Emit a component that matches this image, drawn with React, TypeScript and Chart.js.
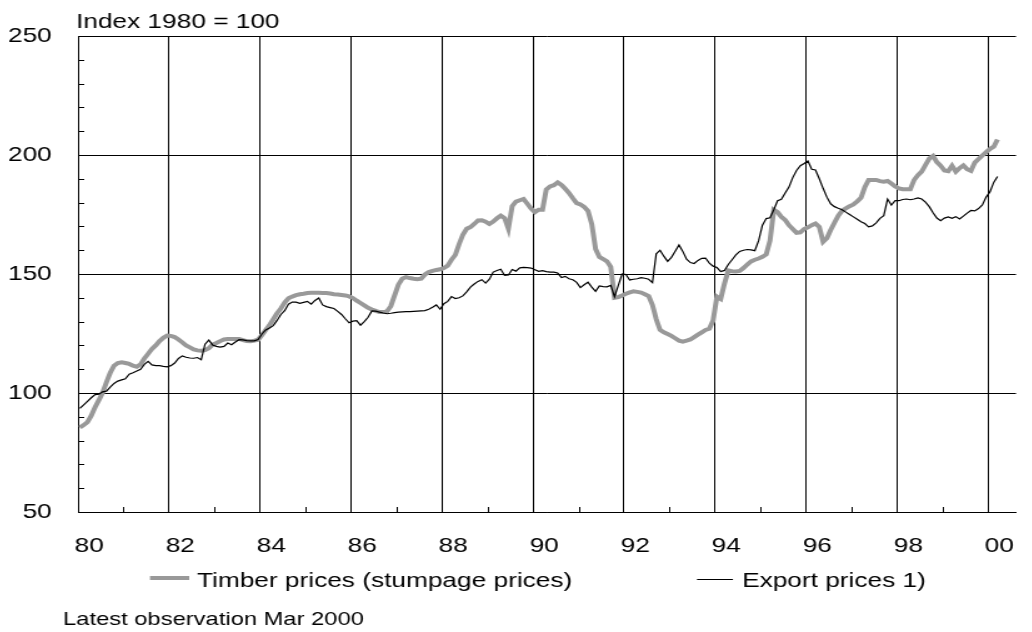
import React, { useEffect, useRef } from "react";
import { Chart, registerables } from "chart.js";

Chart.register(...registerables);

// ---- data -------------------------------------------------------------
const firstYear = 1980; // monthly observations from Jan 1980 to Mar 2000

const timberPrices = [
  85.5, 86.5, 87.8, 90.5, 94, 97, 100.2, 104.5, 108.5, 111.5, 112.6, 112.9,
  112.6, 112.2, 111.5, 111, 112, 114.5, 116.5, 118.5, 120, 121.8, 123.2, 124.1,
  124, 123.5, 122.5, 121.3, 120, 119.2, 118.3, 117.9, 117.8, 118, 118.8, 120.3,
  121, 121.8, 122.5, 122.7, 122.7, 122.7, 122.7, 122.2, 121.8, 121.7, 122, 122.4,
  124.3, 126.5, 128.5, 131, 133.5, 135.5, 138, 139.8, 140.5, 141.1, 141.5, 141.7,
  142, 142.1, 142.1, 142.1, 142, 142, 141.8, 141.5, 141.4, 141.2, 141, 140.6,
  139.9, 138.8, 137.8, 136.8, 135.8, 135.1, 134.5, 134, 134, 134.3, 136.5, 141,
  145.5, 148, 148.7, 148.3, 148, 147.8, 148, 149.8, 150.8, 151.3, 151.7, 152,
  152.5, 153.5, 156, 158, 162.5, 166.5, 169, 169.7, 171, 172.5, 172.6, 172,
  171, 172, 173.4, 174.5, 173.5, 169, 178.5, 180.4, 181, 181.5, 179.5, 177.5,
  176, 177, 177, 185.5, 186.8, 187.3, 188.5, 187.4, 185.8, 184, 181.8, 179.8,
  179.2, 178.2, 176.5, 171, 160.5, 157.2, 156.3, 155.3, 153, 140, 140.3, 141,
  141.7, 142.3, 142.7, 142.5, 142.2, 141.5, 140.7, 137, 131, 126.5, 125.5, 124.8,
  124, 123, 122, 121.6, 122, 122.5, 123.5, 124.5, 125.5, 126.5, 127, 130.5,
  140.5, 139.5, 146, 151.5, 151.2, 151.1, 151.3, 152.5, 154, 155.3, 156, 156.5,
  157.2, 158.2, 164, 177, 176, 174, 172.7, 170.5, 168.9, 167.3, 167.5, 168.9,
  169.6, 170.5, 171.2, 169.8, 163.5, 165, 168.5, 171.5, 174.5, 176.5, 177.6, 178.5,
  179.2, 180.5, 182, 186.5, 189.5, 189.5, 189.5, 189, 188.8, 189.1, 188, 186.8,
  186, 185.6, 185.6, 185.6, 189.5, 191.5, 193, 195.8, 198.5, 199.6, 197, 195.5,
  193.5, 193.2, 195.5, 193, 194.5, 195.6, 194, 193.3, 196.8, 198.3, 199.8, 201.2,
  202.5, 203.5, 206.5,
];

const exportPrices = [
  93.5, 95, 96.5, 98, 99.3, 99.5, 100.5, 100.8, 102.5, 104, 105, 105.5,
  106, 107.9, 108.5, 109.2, 110, 112, 113.3, 111.8, 111.5, 111.5, 111.2, 111,
  111.5, 112.6, 114.5, 115.6, 115, 114.7, 114.6, 114.9, 114, 120.5, 122.2, 120.2,
  119.6, 119.3, 119.6, 121, 120.3, 121.4, 122.4, 122.3, 122, 121.9, 121.9, 122.5,
  124.8, 126.5, 127.3, 128.3, 130.5, 133, 134.6, 137.3, 138.2, 138.2, 137.7, 138.1,
  138.5, 137.3, 138.9, 139.9, 137, 136.3, 135.9, 135.5, 134.3, 133, 131.2, 129.5,
  130.2, 130.4, 128.5, 130, 131.8, 134.5, 134.4, 134, 133.6, 133.3, 133.5, 133.8,
  134, 134.1, 134.2, 134.2, 134.3, 134.4, 134.5, 134.6, 135.2, 136, 137, 135.2,
  137.5, 138.5, 140.5, 139.7, 140, 140.8, 142.5, 144.5, 145.8, 146.9, 147.6, 146.2,
  147.8, 150.8, 151.5, 152, 149.4, 149.6, 151.9, 151.2, 152.6, 152.8, 152.7, 152.5,
  151.8, 151.1, 151.4, 151, 150.8, 150.8, 150.4, 148.5, 149, 148, 147.6, 146.5,
  144.3, 145.5, 146.6, 144.5, 142.7, 145, 144.7, 144.6, 145.2, 140.5, 145.2, 150,
  149.8, 147.5, 147.8, 148, 148.5, 148.2, 147.8, 146.4, 158.5, 160, 157.5, 155.3,
  157, 159.6, 162.2, 159.5, 156.2, 154.8, 154.4, 155.7, 156.6, 156.7, 154.6, 153.3,
  152.7, 151, 151.5, 154, 156, 158, 159.5, 160, 160.3, 160.1, 159.8, 164,
  170.5, 173.3, 173.6, 177, 180.8, 181.4, 184, 186.5, 190.5, 193.5, 195.5, 196.4,
  197.5, 194, 193.7, 190, 186, 182.3, 179.5, 178.3, 177.6, 177, 176, 175,
  174, 173, 172, 171.2, 169.8, 170.2, 171.5, 173.4, 174.5, 181.5, 179, 180.8,
  180.8, 181.3, 181.5, 181.2, 181.5, 182, 181.5, 180.2, 178.3, 175.7, 173.5, 172.4,
  173.5, 174, 173.4, 174.1, 173.1, 174.3, 175.6, 176.7, 176.5, 177.5, 179, 182.3,
  184.5, 188.5, 191,
];

const yearTicks = [1980, 1982, 1984, 1986, 1988, 1990, 1992, 1994, 1996, 1998, 2000];
const minorYearTicks = [1981, 1983, 1985, 1987, 1989, 1991, 1993, 1995, 1997, 1999];
const valueTicks = [50, 100, 150, 200, 250];
const minorValueTicks = [60, 70, 80, 90, 110, 120, 130, 140, 160, 170, 180, 190, 210, 220, 230, 240];

const titleText = "Index 1980 = 100";
const timberLabel = "Timber prices (stumpage prices)";
const exportLabel = "Export prices 1)";
const footerText = "Latest observation Mar 2000";

// ---- styling -------------------------------------------------------------
const FONT = "'Liberation Sans', Arial, Helvetica, sans-serif";
const GRAY = "#999999";
const CANVAS_W = 813; // drawn width, stretched horizontally to 1016 css px
const CANVAS_H = 624;
const CSS_W = 1016;

const toPoints = (values: number[]) =>
  values.map((v, i) => ({ x: firstYear + (i + 0.5) / 12, y: v }));

const decorPlugin = {
  id: "decor",
  afterDraw(chart: any) {
    const { ctx, chartArea, scales } = chart;
    ctx.save();
    ctx.strokeStyle = "#000";
    ctx.lineWidth = 1;
    // minor ticks on y axis (pointing inwards)
    minorValueTicks.forEach((v) => {
      const y = Math.round(scales.y.getPixelForValue(v)) + 0.5;
      ctx.beginPath();
      ctx.moveTo(chartArea.left, y);
      ctx.lineTo(chartArea.left + 5, y);
      ctx.stroke();
    });
    // minor ticks on x axis (pointing inwards)
    minorYearTicks.forEach((t) => {
      const x = Math.round(scales.x.getPixelForValue(t)) + 0.5;
      ctx.beginPath();
      ctx.moveTo(x, chartArea.bottom);
      ctx.lineTo(x, chartArea.bottom - 5);
      ctx.stroke();
    });

    ctx.fillStyle = "#000";
    ctx.textAlign = "left";
    ctx.textBaseline = "alphabetic";
    ctx.font = `21px ${FONT}`;
    ctx.fillText(titleText, 54.4, 20);

    // legend
    ctx.strokeStyle = GRAY;
    ctx.lineWidth = 4;
    ctx.beginPath();
    ctx.moveTo(113.6, 570);
    ctx.lineTo(145, 570);
    ctx.stroke();
    ctx.fillText(timberLabel, 151.2, 579);

    ctx.strokeStyle = "#000";
    ctx.lineWidth = 1;
    ctx.beginPath();
    ctx.moveTo(551.3, 571.5);
    ctx.lineTo(580.1, 571.5);
    ctx.stroke();
    ctx.fillText(exportLabel, 587.4, 579);

    ctx.font = `19px ${FONT}`;
    ctx.fillText(footerText, 44, 617);
    ctx.restore();
  },
};

export default function App() {
  const ref = useRef<HTMLCanvasElement>(null);

  useEffect(() => {
    if (!ref.current) return;
    const chart = new Chart(ref.current, {
      type: "line",
      data: {
        datasets: [
          {
            label: exportLabel,
            data: toPoints(exportPrices),
            borderColor: "#000",
            borderWidth: 1.2,
            pointRadius: 0,
            tension: 0,
            order: 0,
          },
          {
            label: timberLabel,
            data: toPoints(timberPrices),
            borderColor: GRAY,
            borderWidth: 4,
            pointRadius: 0,
            tension: 0,
            order: 1,
          },
        ],
      },
      options: {
        responsive: false,
        devicePixelRatio: 1,
        animation: false,
        events: [],
        layout: { padding: { top: 28, right: 6.4, left: 0, bottom: 0 } },
        plugins: {
          legend: { display: false },
          title: { display: false },
          tooltip: { enabled: false },
        },
        scales: {
          x: {
            type: "linear",
            min: 1980,
            max: 2000.615,
            afterBuildTicks: (s: any) => {
              s.ticks = yearTicks.map((value) => ({ value }));
            },
            afterFit: (s: any) => {
              s.height = CANVAS_H - 504;
            },
            grid: {
              color: "#000",
              lineWidth: 1,
              drawTicks: true,
              tickLength: 22,
              tickColor: "rgba(0,0,0,0)",
            },
            border: { color: "#000", width: 1 },
            ticks: {
              padding: 0,
              labelOffset: 9,
              autoSkip: false,
              maxRotation: 0,
              minRotation: 0,
              color: "#000",
              font: { family: FONT, size: 21 },
              callback: (v: any) => String(v).slice(2),
            },
          },
          y: {
            min: 50,
            max: 250,
            afterBuildTicks: (s: any) => {
              s.ticks = valueTicks.map((value) => ({ value }));
            },
            afterFit: (s: any) => {
              s.width = 56;
            },
            grid: {
              color: "#000",
              lineWidth: 1,
              drawTicks: true,
              tickLength: 20,
              tickColor: "rgba(0,0,0,0)",
            },
            border: { color: "#000", width: 1 },
            ticks: {
              padding: 1,
              autoSkip: false,
              color: "#000",
              font: { family: FONT, size: 21 },
            },
          },
        },
      },
      plugins: [decorPlugin],
    } as any);
    return () => chart.destroy();
  }, []);

  return (
    <div style={{ position: "fixed", left: 8, top: 8 }}>
      <canvas
        ref={ref}
        width={CANVAS_W}
        height={CANVAS_H}
        style={{ display: "block", width: `${CSS_W}px`, height: `${CANVAS_H}px` }}
      />
    </div>
  );
}
